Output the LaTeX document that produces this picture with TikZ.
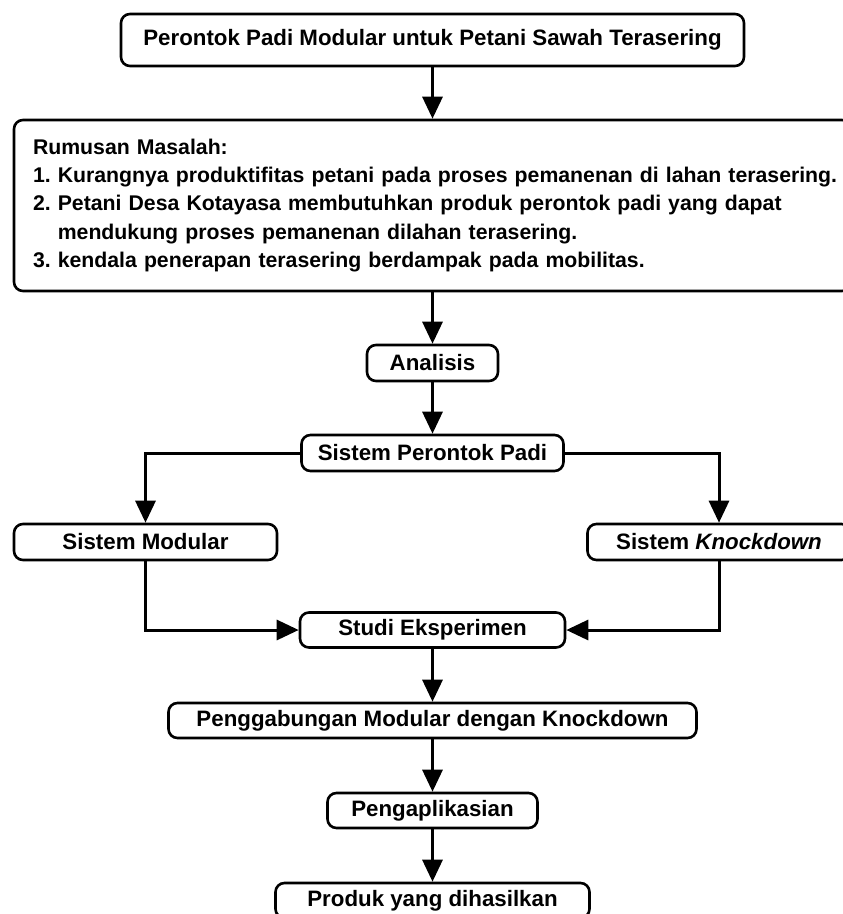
\documentclass[tikz,border=0pt]{standalone}
\usepackage{fontspec}
\setmainfont{Liberation Sans}
\usetikzlibrary{arrows.meta}
\frenchspacing
\begin{document}
\frenchspacing
\begin{tikzpicture}[x=1pt,y=-1pt,
  box/.style={draw, line width=2.6pt, rounded corners=9pt, inner sep=0pt, fill=white,
    font=\fontsize{22.3}{26}\selectfont\bfseries\frenchspacing, align=center},
  arr/.style={line width=3pt, -{Triangle[length=22pt,width=20pt]}}]
\useasboundingbox (0,0) rectangle (843,914);
\node[box, minimum width=623pt, minimum height=52pt] (title) at (432.5,40) {Perontok Padi Modular untuk Petani Sawah Terasering};
\node[box, minimum width=837pt, minimum height=171pt, text width=799pt, align=left,
  font=\fontsize{21.25}{28.3}\selectfont\bfseries\frenchspacing] (rm) at (432.5,205.5)
  {\mbox{Rumusan Masalah:}\\
   \mbox{1. Kurangnya produktifitas petani pada proses pemanenan di lahan terasering.}\\
   \mbox{2. Petani Desa Kotayasa membutuhkan produk perontok padi yang dapat}\\
   \mbox{\hphantom{2.}\ mendukung proses pemanenan dilahan terasering.}\\
   \mbox{3. kendala penerapan terasering berdampak pada mobilitas.}};
\node[box, minimum width=131pt, minimum height=36pt] (an) at (432.5,363) {Analisis};
\node[box, minimum width=262pt, minimum height=36pt] (sp) at (432.5,453) {Sistem Perontok Padi};
\node[box, minimum width=263pt, minimum height=36pt] (mod) at (145.5,542) {Sistem Modular};
\node[box, minimum width=263pt, minimum height=36pt] (kd) at (719,542) {Sistem \textit{Knockdown}};
\node[box, minimum width=265pt, minimum height=35pt] (st) at (432.5,630) {Studi Eksperimen};
\node[box, minimum width=528pt, minimum height=35pt] (pg) at (432.5,720.5) {Penggabungan Modular dengan Knockdown};
\node[box, minimum width=210pt, minimum height=35pt] (ap) at (432.5,810.5) {Pengaplikasian};
\node[box, minimum width=314pt, minimum height=35pt] (pr) at (432.5,900.5) {Produk yang dihasilkan};
\draw[arr] (title.south) -- (rm.north);
\draw[arr] (rm.south) -- (an.north);
\draw[arr] (an.south) -- (sp.north);
\draw[arr] (sp.west) -| (mod.north);
\draw[arr] (sp.east) -| (kd.north);
\draw[arr] (mod.south) |- (st.west);
\draw[arr] (kd.south) |- (st.east);
\draw[arr] (st.south) -- (pg.north);
\draw[arr] (pg.south) -- (ap.north);
\draw[arr] (ap.south) -- (pr.north);
\end{tikzpicture}
\end{document}
